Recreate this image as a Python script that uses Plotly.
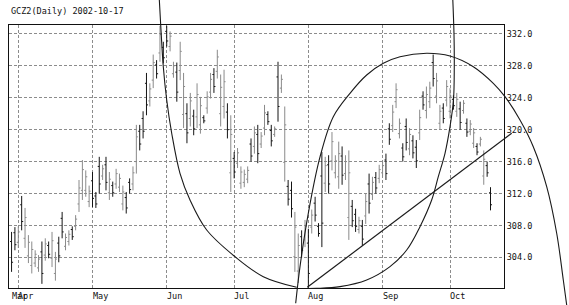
import plotly.graph_objects as go
import pandas as pd

# ---------------- data (GCZ2 daily) ----------------
trading_days = pd.bdate_range(
    start="2002-03-27", end="2002-10-17", freq="C",
    holidays=["2002-03-29", "2002-05-27", "2002-07-04", "2002-09-02"])
dates = [d.strftime("%Y-%m-%d") for d in trading_days]

opens = [
    306.0, 307.1, 305.9, 310.6, 306.4, 304.2, 303.0, 303.3, 302.7, 304.7,
    304.3, 305.5, 303.9, 302.0, 305.8, 308.9, 305.4, 306.0, 307.5, 307.9,
    310.7, 312.4, 312.4, 311.0, 313.6, 311.7, 315.4, 314.2, 315.6, 312.1,
    313.0, 313.2, 312.8, 310.7, 311.5, 313.4, 313.2, 316.0, 319.8, 321.4,
    325.8, 323.6, 326.2, 328.1, 329.6, 330.3, 332.3, 330.4, 327.0, 327.2,
    327.4, 321.9, 322.0, 321.4, 321.7, 321.6, 320.6, 321.5, 322.7, 324.7,
    326.9, 327.3, 322.0, 322.9, 322.2, 314.6, 316.4, 315.8, 313.3, 313.4,
    313.8, 318.2, 317.9, 319.4, 318.2, 320.2, 321.9, 319.9, 319.4, 326.6,
    325.2, 315.9, 312.9, 312.4, 304.1, 302.3, 306.6, 306.2, 305.8, 307.8,
    310.8, 307.9, 314.2, 313.3, 315.6, 316.1, 314.6, 314.1, 316.7, 314.5,
    309.0, 310.4, 309.4, 307.5, 307.9, 309.2, 313.2, 311.9, 314.0, 313.9,
    314.6, 316.2, 320.1, 320.5, 323.5, 319.5, 317.7, 320.4, 317.6, 318.6,
    317.8, 319.6, 324.2, 322.4, 323.5, 328.4, 324.2, 320.8, 322.7, 323.7,
    322.3, 323.8, 322.3, 322.6, 322.4, 320.8, 319.8, 318.3, 317.9, 318.2,
    314.2, 315.5, 312.1]
highs = [
    307.2, 307.8, 307.9, 311.7, 310.2, 306.8, 306.0, 304.9, 304.3, 306.0,
    306.4, 306.0, 307.2, 304.7, 306.6, 309.7, 307.0, 307.4, 307.9, 309.3,
    313.7, 316.2, 314.9, 313.0, 314.7, 312.2, 316.6, 315.6, 316.6, 314.7,
    313.5, 315.1, 314.5, 313.0, 312.2, 313.9, 315.4, 320.6, 320.6, 322.3,
    327.1, 325.8, 329.4, 328.7, 333.0, 331.0, 333.0, 332.3, 328.5, 328.4,
    331.0, 327.1, 323.3, 324.6, 322.5, 325.8, 324.1, 321.8, 324.8, 327.1,
    327.7, 330.0, 326.9, 327.5, 323.3, 321.8, 317.2, 317.7, 315.4, 315.0,
    315.4, 318.9, 320.4, 320.6, 319.7, 323.1, 322.3, 320.6, 320.4, 328.5,
    326.9, 322.9, 313.7, 313.5, 309.7, 307.0, 307.4, 308.7, 307.6, 310.0,
    311.6, 308.3, 317.2, 316.6, 316.8, 319.7, 316.8, 318.5, 317.9, 316.8,
    317.4, 311.2, 310.1, 309.1, 308.7, 312.0, 314.5, 314.1, 314.7, 315.6,
    316.0, 317.0, 320.8, 323.1, 325.8, 321.4, 318.3, 321.4, 320.2, 319.3,
    318.7, 322.5, 324.8, 325.4, 326.0, 329.4, 327.1, 323.1, 323.3, 326.2,
    325.2, 324.3, 324.6, 323.5, 323.7, 321.4, 321.2, 320.2, 318.3, 319.1,
    317.4, 316.0, 312.8]
lows = [
    302.2, 304.9, 305.2, 307.4, 305.2, 303.3, 302.0, 302.8, 302.2, 300.7,
    303.6, 303.9, 302.8, 301.1, 303.4, 306.4, 304.9, 305.5, 306.2, 307.4,
    309.7, 311.2, 311.6, 310.3, 310.3, 310.2, 312.0, 313.7, 312.4, 311.2,
    311.6, 312.6, 312.2, 309.9, 309.5, 312.0, 312.4, 314.5, 317.4, 318.9,
    321.8, 322.9, 325.2, 326.4, 328.5, 328.3, 330.4, 329.8, 326.5, 323.5,
    326.2, 320.2, 318.3, 320.4, 319.3, 320.2, 319.5, 320.8, 322.0, 323.9,
    324.6, 326.4, 320.4, 321.4, 318.9, 312.2, 313.9, 315.2, 312.6, 312.8,
    313.3, 316.0, 317.0, 315.8, 317.7, 319.3, 320.6, 317.9, 319.1, 321.0,
    324.6, 313.5, 310.5, 309.0, 302.2, 300.8, 304.0, 305.3, 300.2, 307.0,
    308.5, 306.6, 305.3, 312.2, 312.0, 314.9, 313.9, 312.6, 313.1, 313.7,
    306.2, 307.8, 307.2, 307.0, 305.5, 308.2, 309.5, 311.2, 312.0, 313.3,
    314.1, 313.7, 318.1, 319.7, 322.7, 318.9, 316.0, 317.4, 316.8, 316.4,
    315.2, 318.7, 322.5, 321.4, 322.7, 325.4, 323.3, 320.0, 320.8, 322.9,
    321.4, 322.5, 321.6, 320.0, 322.0, 319.1, 319.3, 317.7, 316.8, 317.9,
    313.1, 314.1, 309.9]
closes = [
    303.4, 305.6, 307.2, 308.5, 309.0, 305.9, 305.0, 304.4, 303.8, 302.0,
    305.7, 304.4, 306.1, 303.8, 304.2, 307.2, 306.5, 306.9, 306.6, 308.8,
    312.7, 315.0, 314.1, 312.3, 311.4, 310.7, 313.2, 315.1, 313.4, 313.8,
    312.1, 314.5, 313.9, 312.2, 310.2, 312.5, 314.6, 319.1, 318.2, 319.8,
    323.1, 325.1, 328.4, 327.0, 331.9, 329.0, 331.1, 331.7, 328.0, 324.7,
    329.8, 325.4, 319.6, 323.6, 320.1, 324.4, 323.0, 321.1, 324.1, 326.3,
    325.4, 329.1, 325.3, 326.0, 320.0, 319.4, 314.7, 317.1, 314.7, 314.4,
    314.9, 316.7, 319.6, 317.0, 319.2, 322.1, 321.0, 318.6, 320.1, 322.9,
    326.3, 320.6, 311.3, 310.1, 307.8, 305.5, 304.9, 307.9, 302.0, 309.3,
    309.3, 307.0, 308.3, 315.5, 313.2, 318.5, 316.1, 317.0, 314.3, 316.0,
    314.6, 308.6, 307.9, 308.6, 306.3, 311.0, 310.8, 313.4, 312.7, 315.0,
    315.5, 314.5, 318.8, 322.2, 325.0, 320.8, 316.6, 318.4, 319.4, 317.1,
    316.1, 321.5, 323.1, 324.4, 325.2, 326.4, 326.1, 322.3, 321.4, 325.4,
    324.2, 323.0, 323.8, 320.9, 323.3, 319.7, 320.7, 319.6, 317.2, 318.8,
    316.3, 314.6, 310.6]

price_ticks = [304, 308, 312, 316, 320, 324, 328, 332]
title_text = "GCZ2(Daily) 2002-10-17"

# hand-drawn study lines, stored in chart units (bar number, price)
arcA_bar = [43.65, 44.22, 44.99, 46.00, 47.48, 49.94, 52.91, 57.86, 66.25, 74.64, 84.54]
arcA_price = [337.5, 333.10, 327.88, 323.71, 319.55, 314.54, 311.20, 307.44, 304.10, 301.60, 300.27]
arcB_bar = [84.24, 85.52, 87.98, 91.45, 95.39, 100.34, 105.29, 110.21, 115.17, 123.08,
            129.99, 136.90, 142.83, 146.29, 150.74, 154.68, 158.66, 161.62, 163.58, 164.59]
arcB_price = [298.27, 302.85, 309.53, 316.58, 321.62, 324.55, 326.84, 328.31, 329.13, 329.56,
              329.22, 327.88, 325.80, 324.13, 321.21, 317.87, 312.86, 307.03, 301.18, 298.05]
arcC_bar = [130.70, 131.17, 131.26, 131.02, 129.99, 128.51, 126.52, 124.56, 121.09, 117.15,
            112.20, 105.29, 97.38, 90.47, 87.89]
arcC_price = [337.5, 332.06, 327.88, 323.71, 320.37, 317.04, 314.11, 311.20, 307.86, 304.94,
              302.85, 301.18, 300.35, 300.14, 300.12]
trend_bar = [87.68, 148.28]
trend_price = [300.27, 319.55]

# ---------------- layout geometry ----------------
W, H = 569, 305
XD = [9 / W, 504 / W]
YD = [1 - 288 / H, 1 - 25 / H]
XR = [-0.756, 146.0]
YR = [300.18, 333.10]


def extend(r, d):
    span = (r[1] - r[0]) / (d[1] - d[0])
    return [r[0] - d[0] * span, r[1] + (1 - d[1]) * span]


XR2 = extend(XR, XD)
YR2 = extend(YR, YD)

FONT = "DejaVu Sans Mono"

fig = go.Figure()
fig.add_trace(go.Ohlc(
    x=dates, open=opens, high=highs, low=lows, close=closes,
    increasing=dict(line=dict(color="#8a8a8a", width=1)),
    decreasing=dict(line=dict(color="#151515", width=1)),
    tickwidth=0.45, hoverinfo="skip", xaxis="x", yaxis="y"))

line_style = dict(color="#1a1a1a", width=1.1, shape="spline", smoothing=1.0)
for bx, py in [(arcA_bar, arcA_price), (arcB_bar, arcB_price), (arcC_bar, arcC_price)]:
    fig.add_trace(go.Scatter(x=bx, y=py, mode="lines", line=line_style,
                             hoverinfo="skip", xaxis="x2", yaxis="y2"))
fig.add_trace(go.Scatter(x=trend_bar, y=trend_price, mode="lines",
                         line=dict(color="#1a1a1a", width=1.2),
                         hoverinfo="skip", xaxis="x2", yaxis="y2"))

# month labels (left aligned at the first trading day of each month)
month_first = []
seen = set()
for d in trading_days:
    key = (d.year, d.month)
    if key not in seen:
        seen.add(key)
        month_first.append(d)
grid_dates = [d.strftime("%Y-%m-%d") for d in month_first[1:]]

annotations = []
for d in month_first:
    annotations.append(dict(
        x=d.strftime("%Y-%m-%d"), xref="x", y=1 - 288.5 / H, yref="paper",
        text=d.strftime("%b"), showarrow=False, xanchor="left", yanchor="top",
        xshift=-2, font=dict(family=FONT, size=8.5, color="#111")))
annotations.append(dict(
    x=9 / W, xref="paper", y=1 - 11.5 / H, yref="paper", text=title_text,
    showarrow=False, xanchor="left", yanchor="middle",
    font=dict(family=FONT, size=8.5, color="#111")))

grid = dict(showgrid=True, gridcolor="#8c8c8c", gridwidth=1, griddash="3px,2px")

fig.update_layout(
    width=W, height=H, margin=dict(l=0, r=0, t=0, b=0),
    paper_bgcolor="white", plot_bgcolor="rgba(0,0,0,0)", showlegend=False,
    annotations=annotations,
    xaxis=dict(type="category", domain=XD, range=XR, anchor="y",
               tickvals=grid_dates, showticklabels=False, ticks="",
               showline=True, mirror=True, linecolor="#111", linewidth=1,
               zeroline=False, rangeslider=dict(visible=False), automargin=False,
               **grid),
    yaxis=dict(domain=YD, range=YR, anchor="x", side="right",
               tickvals=price_ticks, ticktext=[f"{v:.1f}" for v in price_ticks],
               ticks="", showline=True, mirror=True, linecolor="#111", linewidth=1,
               zeroline=False, automargin=False,
               tickfont=dict(family=FONT, size=8.5, color="#111"), **grid),
    xaxis2=dict(domain=[0, 1], range=XR2, anchor="y2", visible=False,
                showgrid=False, zeroline=False),
    yaxis2=dict(domain=[0, 1], range=YR2, anchor="x2", visible=False,
                showgrid=False, zeroline=False),
)

fig.write_html("out.html")
